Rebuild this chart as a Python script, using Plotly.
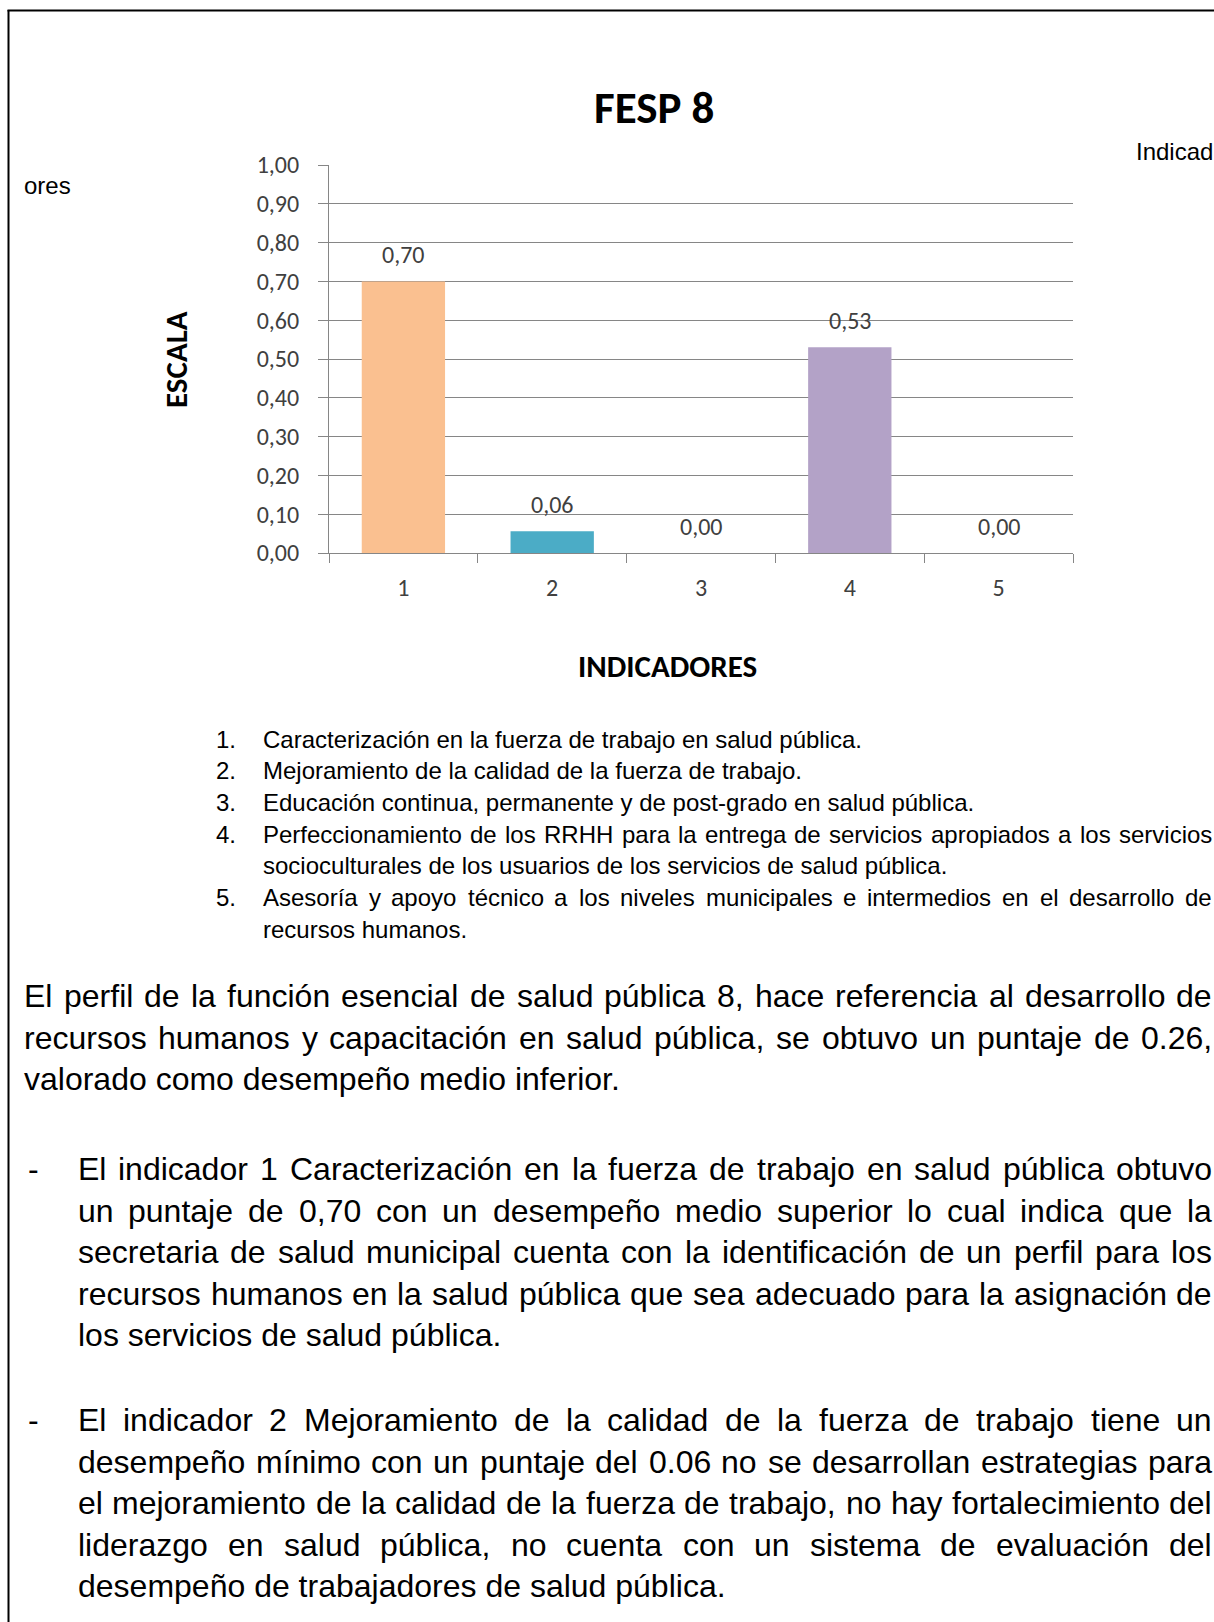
import plotly.graph_objects as go

# ---------------- data ----------------
categories = ["1", "2", "3", "4", "5"]
values = [0.70, 0.056, 0.00, 0.53, 0.00]
value_labels = ["0,70", "0,06", "0,00", "0,53", "0,00"]
bar_colors = ["#FAC090", "#4BACC6", "#9BBB59", "#B3A2C7", "#F79646"]
y_ticks = [0.0, 0.1, 0.2, 0.3, 0.4, 0.5, 0.6, 0.7, 0.8, 0.9, 1.0]

title_text = "FESP 8"
y_title = "ESCALA"
x_title = "INDICADORES"

legend_items = [
    ["Caracterización en la fuerza de trabajo en salud pública."],
    ["Mejoramiento de la calidad de la fuerza de trabajo."],
    ["Educación continua, permanente y de post-grado en salud pública."],
    ["Perfeccionamiento de los RRHH para la entrega de servicios apropiados a los servicios",
     "socioculturales de los usuarios de los servicios de salud pública."],
    ["Asesoría y apoyo técnico a los niveles municipales e intermedios en el desarrollo de",
     "recursos humanos."],
]

body_lines = [
    "El perfil de la función esencial de salud pública 8, hace referencia al desarrollo de",
    "recursos humanos y capacitación en salud pública, se obtuvo un puntaje de 0.26,",
    "valorado como desempeño medio inferior.",
]

bullet1 = [
    "El indicador 1 Caracterización en la fuerza de trabajo en salud pública obtuvo",
    "un puntaje de 0,70 con un desempeño medio superior lo cual indica que la",
    "secretaria de salud municipal cuenta con la identificación de un perfil para los",
    "recursos humanos en la salud pública que sea adecuado para la asignación de",
    "los servicios de salud pública.",
]
bullet2 = [
    "El indicador 2 Mejoramiento de la calidad de la fuerza de trabajo tiene un",
    "desempeño mínimo con un puntaje del 0.06 no se desarrollan estrategias para",
    "el mejoramiento de la calidad de la fuerza de trabajo, no hay fortalecimiento del",
    "liderazgo en salud pública, no cuenta con un sistema de evaluación del",
    "desempeño de trabajadores de salud pública.",
]

# ---------------- layout geometry ----------------
W, H = 1214, 1622
PL, PR, PT, PB = 329, 1073, 165, 553  # plot area in pixels

def px(x):
    return (x - PL) / (PR - PL)

def py(y):
    return (PB - y) / (PB - PT)

CHART_FONT = "Carlito, Lato, sans-serif"
DOC_FONT = "Liberation Sans, Arial, sans-serif"

# Arial advance widths (per 1000 em) for justification
AW = {' ': 278, ',': 278, '.': 278, '-': 333, '0': 556, '1': 556, '2': 556, '3': 556,
      '4': 556, '5': 556, '6': 556, '7': 556, '8': 556, '9': 556,
      'A': 667, 'E': 667, 'H': 722, 'M': 833, 'P': 667, 'R': 722, 'C': 722,
      'a': 556, 'b': 556, 'c': 500, 'd': 556, 'e': 556, 'f': 278, 'g': 556, 'h': 556,
      'i': 222, 'j': 222, 'k': 500, 'l': 222, 'm': 833, 'n': 556, 'o': 556, 'p': 556,
      'q': 556, 'r': 333, 's': 500, 't': 278, 'u': 556, 'v': 500, 'w': 722, 'x': 500,
      'y': 500, 'z': 500, 'á': 556, 'é': 556, 'í': 278, 'ó': 556, 'ú': 556, 'ñ': 556}

def tw(s, size):
    return sum(AW.get(ch, 556) for ch in s) / 1000.0 * size

annotations = []

def text_at(x, y, s, size, anchor="left", color="black", family=DOC_FONT, bold=False):
    if bold:
        s = "<b>" + s + "</b>"
    annotations.append(dict(xref="paper", yref="paper", x=px(x), y=py(y), text=s,
                            showarrow=False, xanchor=anchor, yanchor="middle",
                            borderpad=0, borderwidth=0,
                            font=dict(family=family, size=size, color=color)))

def justified(x0, x1, y, line, size):
    words = line.split(" ")
    total = sum(tw(w, size) for w in words)
    gap = (x1 - x0 - total) / (len(words) - 1)
    x = x0
    for w in words:
        text_at(x, y, w, size)
        x += tw(w, size) + gap

# ---------------- figure ----------------
fig = go.Figure()
fig.add_trace(go.Bar(x=categories, y=values, marker=dict(color=bar_colors, line=dict(width=0)),
                     width=0.56, hoverinfo="skip"))

# value labels above bars (category index positions on the category axis)
for i, (v, lab) in enumerate(zip(values, value_labels)):
    annotations.append(dict(x=i, y=v, xref="x", yref="y", text=lab, showarrow=False,
                            yshift=27, yanchor="middle",
                            font=dict(family=CHART_FONT, size=24, color="#404040")))

# chart texts
text_at(654, 107, title_text, 45, anchor="center", family=CHART_FONT, bold=True)
text_at(667, 666, x_title, 31, anchor="center", family=CHART_FONT, bold=True)
annotations.append(dict(xref="paper", yref="paper", x=px(176), y=py(360), text="<b>" + y_title + "</b>",
                        showarrow=False, textangle=-90, xanchor="center", yanchor="middle",
                        font=dict(family=CHART_FONT, size=31, color="black")))

# stray text fragments
text_at(24, 185, "ores", 24)
text_at(1136, 152, "Indicad", 24)

# numbered list
LIST_SIZE = 24
ly = 739
LSTEP = 31.7
for i, item in enumerate(legend_items):
    text_at(216, ly, f"{i + 1}.", LIST_SIZE)
    for j, line in enumerate(item):
        if j < len(item) - 1:
            justified(263, 1212, ly, line, LIST_SIZE)
        else:
            text_at(263, ly, line, LIST_SIZE)
        ly += LSTEP

# body paragraph
BODY = 32
BSTEP = 41.5
y = 996
for j, line in enumerate(body_lines):
    if j < len(body_lines) - 1:
        justified(24, 1212, y, line, BODY)
    else:
        text_at(24, y, line, BODY)
    y += BSTEP

# bullets
for start, lines in ((1169, bullet1), (1420, bullet2)):
    text_at(28, start, "-", BODY)
    y = start
    for j, line in enumerate(lines):
        if j < len(lines) - 1:
            justified(78, 1212, y, line, BODY)
        else:
            text_at(78, y, line, BODY)
        y += BSTEP

shapes = [
    dict(type="line", xref="paper", yref="paper", x0=px(8.5), x1=px(8.5), y0=py(10), y1=py(H + 5),
         line=dict(color="black", width=2)),
    dict(type="line", xref="paper", yref="paper", x0=px(7.5), x1=px(W + 5), y0=py(10.5), y1=py(10.5),
         line=dict(color="black", width=2)),
]

fig.update_layout(
    width=W, height=H,
    margin=dict(l=PL, r=W - PR, t=PT, b=H - PB, autoexpand=False),
    paper_bgcolor="white", plot_bgcolor="white",
    showlegend=False, bargap=0.44,
    separators=",.",
    annotations=annotations, shapes=shapes,
    xaxis=dict(type="category", range=[-0.5, 4.5], tickson="boundaries", ticks="outside", ticklen=9,
               tickcolor="#868686", showline=True, linecolor="#868686", linewidth=1,
               showgrid=False, ticklabelstandoff=13,
               tickfont=dict(family=CHART_FONT, size=24, color="#404040")),
    yaxis=dict(range=[0, 1], tickvals=y_ticks, tickformat=".2f", ticks="outside", ticklen=10,
               tickcolor="#868686", showline=True, linecolor="#868686", linewidth=1,
               showgrid=True, gridcolor="#868686", gridwidth=1, zeroline=False,
               ticklabelstandoff=14,
               tickfont=dict(family=CHART_FONT, size=24, color="#404040")),
)

fig.write_html("out.html", config={"displayModeBar": False},
               post_script="document.body.style.margin='0';document.body.style.overflow='hidden';")
